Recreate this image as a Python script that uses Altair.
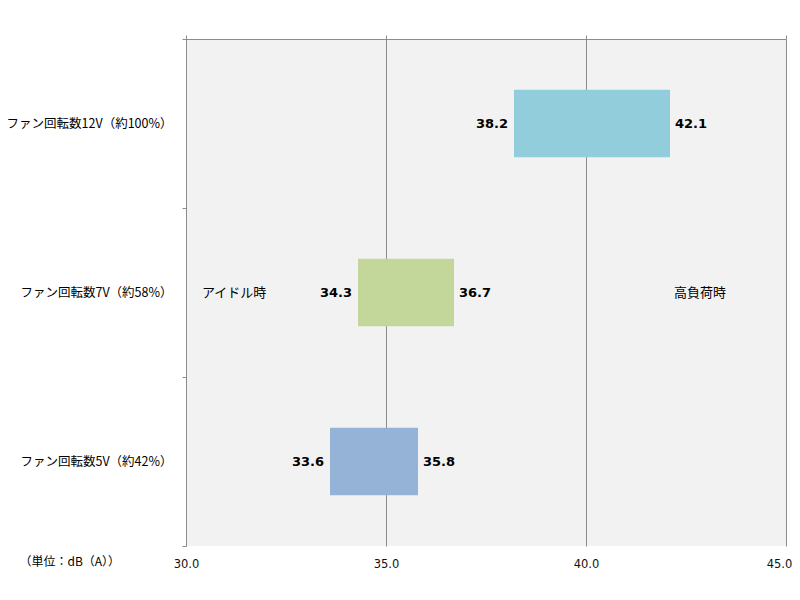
import altair as alt
import pandas as pd

categories = ["ファン回転数12V（約100%）", "ファン回転数7V（約58%）", "ファン回転数5V（約42%）"]
idle_db = [38.2, 34.3, 33.6]
load_db = [42.1, 36.7, 35.8]
bar_colors = ["#92CDDC", "#C4D79B", "#95B3D7"]

note_text = ["アイドル時", "高負荷時"]
note_x = [30.4, 42.2]
note_cat = [categories[1], categories[1]]

x_ticks = [30, 35, 40, 45]
unit_label = "（単位：dB（A））"

df = pd.DataFrame({"cat": categories, "idle": idle_db, "load": load_db, "color": bar_colors})
notes = pd.DataFrame({"text": note_text, "x": note_x, "cat": note_cat})

xscale = alt.Scale(domain=[30, 45], nice=False, zero=False)
yscale = alt.Scale(domain=categories, paddingInner=0, paddingOuter=0)

GRAY = "#8c8c8c"
JP = "Noto Sans CJK JP"

y_enc = alt.Y(
    "cat:N", scale=yscale, sort=categories,
    axis=alt.Axis(title=None, labelFont=JP, labelFontSize=12.5, labelColor="#000",
                  labelPadding=10, tickBand="extent", tickSize=4, tickColor=GRAY,
                  domainColor=GRAY, labelLimit=400, grid=False),
)

bars = alt.Chart(df).mark_bar(strokeWidth=0, height=alt.RelativeBandSize(0.4)).encode(
    x=alt.X("idle:Q", scale=xscale,
            axis=alt.Axis(orient="top", values=x_ticks, labels=False, title=None,
                          tickSize=4, tickColor=GRAY, domainColor=GRAY,
                          grid=True, gridColor=GRAY, gridOpacity=1)),
    x2="load:Q",
    y=y_enc,
    color=alt.Color("color:N", scale=None),
)

left_lbl = alt.Chart(df).mark_text(align="right", dx=-6, font="DejaVu Sans",
                                   fontWeight="bold", fontSize=13, color="#000",
                                   baseline="middle").encode(
    x=alt.X("idle:Q", scale=xscale, axis=None),
    y=y_enc,
    text=alt.Text("idle:Q", format=".1f"),
)

right_lbl = alt.Chart(df).mark_text(align="left", dx=5, font="DejaVu Sans",
                                    fontWeight="bold", fontSize=13, color="#000",
                                    baseline="middle").encode(
    x=alt.X("load:Q", scale=xscale, axis=None),
    y=y_enc,
    text=alt.Text("load:Q", format=".1f"),
)

note_layer = alt.Chart(notes).mark_text(align="left", font=JP, fontSize=13,
                                        color="#000", baseline="middle").encode(
    x=alt.X("x:Q", scale=xscale,
            axis=alt.Axis(orient="bottom", values=x_ticks, format=".1f",
                          domain=False, ticks=False, tickSize=0, grid=False,
                          labelFlush=False, labelBound=False,
                          labelOffset={"condition": {"test": "datum.value >= 45", "value": -7},
                                       "value": 0},
                          labelFont="DejaVu Sans", labelFontSize=11.5,
                          labelColor="#111", labelPadding=12,
                          title=unit_label, titleFont=JP, titleFontSize=12,
                          titleFontWeight="normal", titleColor="#000",
                          titleAlign="left", titleAnchor="start",
                          titleX=-167, titleY=15, titleBaseline="middle")),
    y=y_enc,
    text="text:N",
)

chart = (
    alt.layer(bars, left_lbl, right_lbl, note_layer)
    .resolve_scale(x="shared")
    .resolve_axis(x="independent")
    .properties(width=600, height=507, autosize="none",
                padding={"left": 178, "top": 31, "right": 6, "bottom": 40},
                background="#ffffff")
    .configure_view(fill="#F2F2F2", strokeWidth=0)
)

chart.save("out.html", embed_options={"renderer": "svg", "actions": False})
